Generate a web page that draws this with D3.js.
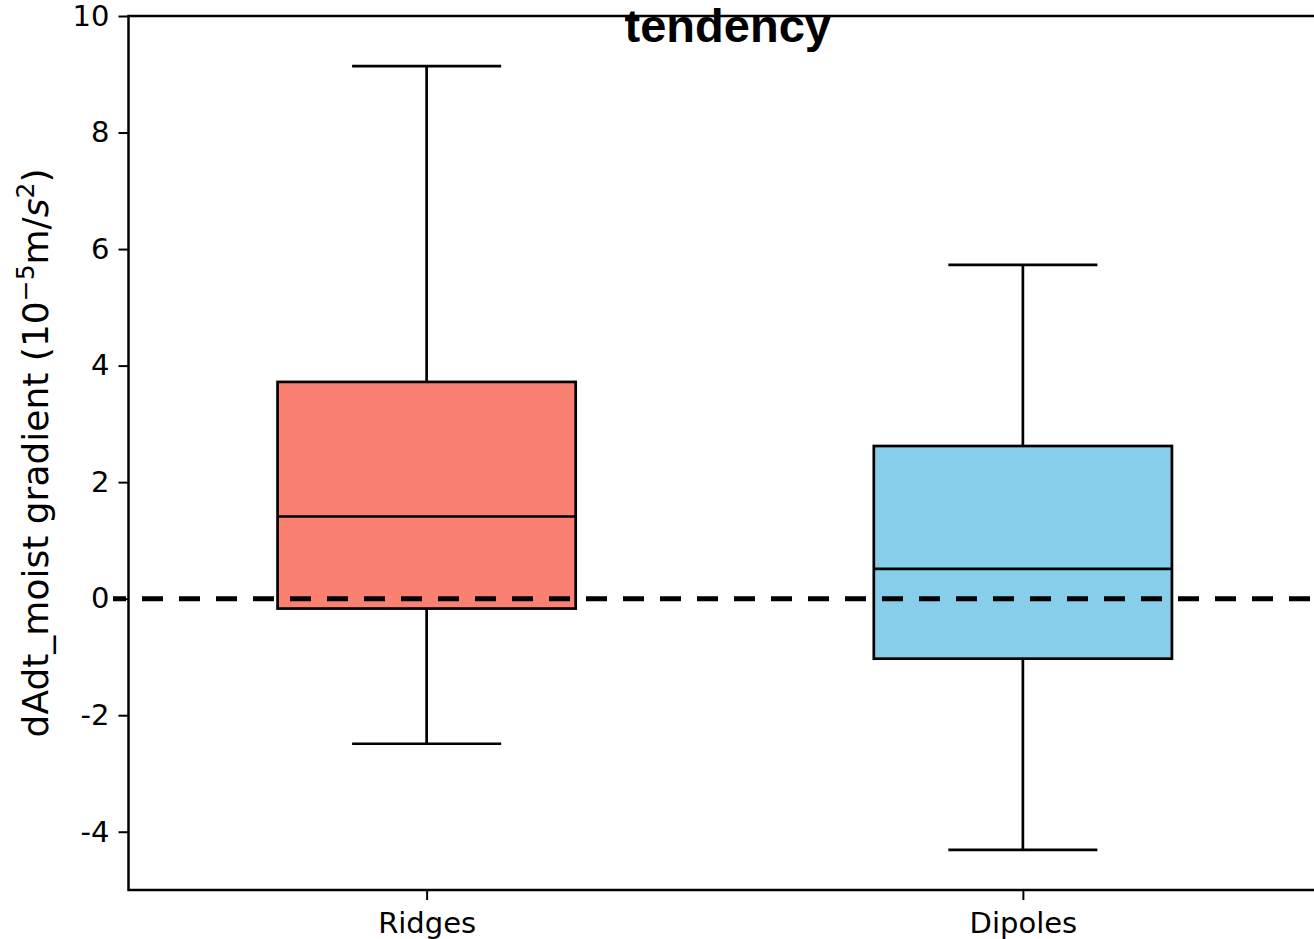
<!DOCTYPE html>
<html><head><meta charset="utf-8">
<script src="https://cdn.jsdelivr.net/npm/d3@7"></script>
<style>body{margin:0;background:#fff}svg{display:block}</style>
</head><body>
<script>
const categories = ["Ridges", "Dipoles"];
const whiskerLow = [-2.49, -4.31];
const q1 = [-0.17, -1.03];
const median = [1.41, 0.51];
const q3 = [3.72, 2.62];
const whiskerHigh = [9.14, 5.73];
const colors = ["#FA8072", "#87CEEB"];
const yTicks = [-4, -2, 0, 2, 4, 6, 8, 10];
const refValue = 0;

const W = 1314, H = 939;
const svg = d3.select("body").append("svg").attr("width", W).attr("height", H);
const x = d3.scaleLinear().domain([0.5, 2.5]).range([128.5, 1321]);
const y = d3.scaleLinear().domain([-5, 10]).range([890, 16]);
const font = "DejaVu Sans, sans-serif";

const data = categories.map((c, i) => ({c, i, pos: i + 1, lo: whiskerLow[i], q1: q1[i], med: median[i], q3: q3[i], hi: whiskerHigh[i], col: colors[i]}));
const boxW = 0.25, capW = 0.125;
const g = svg.append("g");
data.forEach(d => {
  const gg = g.append("g").attr("stroke", "#000").attr("stroke-width", 2.7);
  gg.append("line").attr("x1", x(d.pos)).attr("x2", x(d.pos)).attr("y1", y(d.q3)).attr("y2", y(d.hi));
  gg.append("line").attr("x1", x(d.pos)).attr("x2", x(d.pos)).attr("y1", y(d.q1)).attr("y2", y(d.lo));
  gg.append("line").attr("x1", x(d.pos - capW)).attr("x2", x(d.pos + capW)).attr("y1", y(d.hi)).attr("y2", y(d.hi));
  gg.append("line").attr("x1", x(d.pos - capW)).attr("x2", x(d.pos + capW)).attr("y1", y(d.lo)).attr("y2", y(d.lo));
  gg.append("rect").attr("x", x(d.pos - boxW)).attr("width", x(d.pos + boxW) - x(d.pos - boxW))
    .attr("y", y(d.q3)).attr("height", y(d.q1) - y(d.q3)).attr("fill", d.col);
  gg.append("line").attr("x1", x(d.pos - boxW)).attr("x2", x(d.pos + boxW)).attr("y1", y(d.med)).attr("y2", y(d.med));
});

// reference dashed line
svg.append("line").attr("x1", 113).attr("x2", W).attr("y1", y(refValue)).attr("y2", y(refValue))
  .attr("stroke", "#000").attr("stroke-width", 5).attr("stroke-dasharray", "21,16").attr("stroke-dashoffset", 8);

// axes frame
svg.append("rect").attr("x", x(0.5)).attr("y", y(10)).attr("width", x(2.5) - x(0.5)).attr("height", y(-5) - y(10))
  .attr("fill", "none").attr("stroke", "#000").attr("stroke-width", 2.5);

// y axis
const yAxis = d3.axisLeft(y).tickValues(yTicks).tickSize(10).tickPadding(9).tickFormat(d => String(d));
const ya = svg.append("g").attr("transform", `translate(${x(0.5)},0)`).call(yAxis);
ya.select(".domain").remove();
ya.selectAll("line").attr("stroke-width", 2);
ya.selectAll("text").attr("font-family", font).attr("font-size", 29).attr("fill", "#000");

// x axis
const xAxis = d3.axisBottom(x).tickValues(data.map(d => d.pos)).tickSize(10).tickPadding(12).tickFormat((d, i) => categories[i]);
const xa = svg.append("g").attr("transform", `translate(0,${y(-5)})`).call(xAxis);
xa.select(".domain").remove();
xa.selectAll("line").attr("stroke-width", 2);
xa.selectAll("text").attr("font-family", font).attr("font-size", 29).attr("fill", "#000");

// y label
const yl = svg.append("text").attr("transform", `translate(48,453) rotate(-90)`).attr("text-anchor", "middle")
  .attr("font-family", font).attr("font-size", 36).attr("fill", "#000");
yl.append("tspan").text("dAdt_moist gradient (10");
yl.append("tspan").attr("baseline-shift", "super").attr("font-size", 25).text("\u22125");
yl.append("tspan").text("m/");
yl.append("tspan").attr("font-style", "italic").text("s");
yl.append("tspan").attr("baseline-shift", "super").attr("font-size", 25).text("2");
yl.append("tspan").text(")");

// title
svg.append("text").attr("x", (x(0.5) + x(2.5)) / 2 + 3).attr("y", 42).attr("text-anchor", "middle")
  .attr("font-family", "Liberation Sans, Arial, sans-serif").attr("font-weight", "bold").attr("font-size", 47)
  .attr("fill", "#000").text("tendency");
</script>
</body></html>
